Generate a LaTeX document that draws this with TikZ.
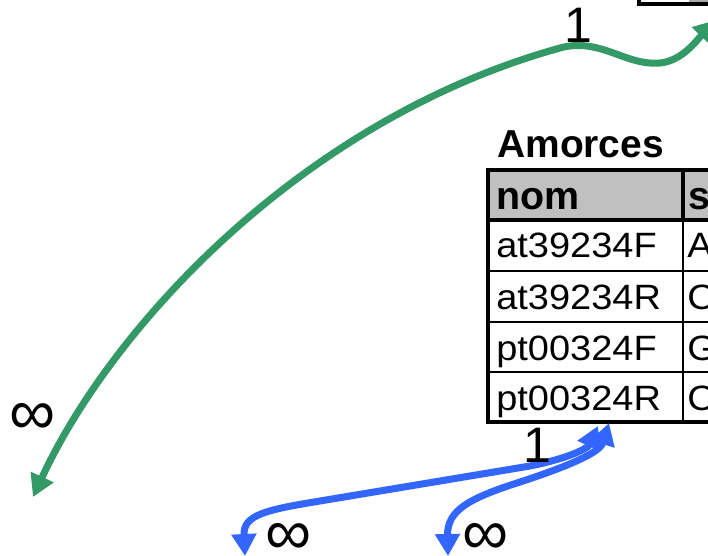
\documentclass[tikz,border=0pt]{standalone}
\usepackage{fontspec}
\setmainfont{Liberation Sans}
\newfontfamily\lignefont[FakeStretch=1.08]{Liberation Sans}
\usepackage{tikz}
\usetikzlibrary{arrows.meta}
\definecolor{lienvert}{HTML}{339966}
\definecolor{lienbleu}{HTML}{3366FF}
\definecolor{entete}{HTML}{C0C0C0}

\begin{document}
\begin{tikzpicture}[x=0.025cm,y=-0.025cm,
    >={Triangle[length=5.5mm,width=6mm]},
    lien/.style={line width=1.75mm,<->},
    epais/.style={line width=0.9mm},
    fin/.style={line width=0.6mm},
    nomtable/.style={font=\fontsize{27.7}{32}\selectfont\bfseries,anchor=base west,inner sep=0},
    champ/.style={font=\fontsize{28}{32}\selectfont\bfseries,anchor=base west,inner sep=0},
    valeur/.style={font=\fontsize{25}{30}\selectfont\lignefont,anchor=base west,inner sep=0},
    card/.style={font=\fontsize{35.5}{40}\selectfont,inner sep=0},
    infini/.style={font=\fontsize{46}{50}\selectfont,inner sep=0}]
  \useasboundingbox (0,0) rectangle (708,556);
  \clip (0,0) rectangle (708,556);
  % bout de la table du haut (coupee)
  \fill[gray!70] (689,-10) rectangle (720,2.5);
  \draw[epais] (639,-10) -- (639,4) -- (720,4);
  % table Amorces
  \node[nomtable] (titre) at (497,158) {Amorces};
  \fill[entete] (488,170) rectangle (720,220);
  \draw[fin] (488,271) -- (720,271);
  \draw[fin] (488,322) -- (720,322);
  \draw[fin] (488,372) -- (720,372);
  \draw[fin] (683,220) -- (683,422);
  \draw[epais] (683,170) -- (683,220);
  \draw[epais] (488,220) -- (720,220);
  \draw[epais] (720,170) -- (488,170) -- (488,422) -- (720,422);
  \node[champ] (nom) at (496,210) {nom};
  \node[champ] (seq) at (688,210) {s};
  \node[valeur] (r1) at (496,258) {at39234F};
  \node[valeur] (r2) at (496,309) {at39234R};
  \node[valeur] (r3) at (496,360) {pt00324F};
  \node[valeur] (r4) at (496,410) {pt00324R};
  \node[valeur] (s1) at (687,258) {A};
  \node[valeur] (s2) at (687,309) {C};
  \node[valeur] (s3) at (687,360) {G};
  \node[valeur] (s4) at (687,410) {C};
  % extremites des liens
  \coordinate (haut) at (716,20);
  \coordinate (gauche) at (33,497);
  \coordinate (basA) at (598,426);
  \coordinate (basB) at (609,423);
  \coordinate (finA) at (245,556);
  \coordinate (finB) at (448,556);
  % lien vert 1 - infini
  \draw[lien,lienvert] (gauche) .. controls (110,330) and (300,120) .. (560,48)
     .. controls (600,37) and (625,66) .. (660,63)
     .. controls (682,61) and (697,40) .. (haut);
  \node[card] (un1) at (578,25) {1};
  \node[infini] (inf1) at (33,419) {∞};
  % liens bleus depuis Amorces
  \draw[lien,lienbleu] (basA) .. controls (588,448) and (570,458) .. (530,466)
     -- (320,501) .. controls (265,510) and (243,515) .. (finA);
  \draw[lien,lienbleu] (basB) .. controls (600,452) and (572,465) .. (520,482)
     .. controls (470,498) and (447,510) .. (finB);
  \node[card] (un2) at (537,445) {1};
  \node[infini] (inf2) at (289,539) {∞};
  \node[infini] (inf3) at (486,539) {∞};
\end{tikzpicture}
\end{document}
